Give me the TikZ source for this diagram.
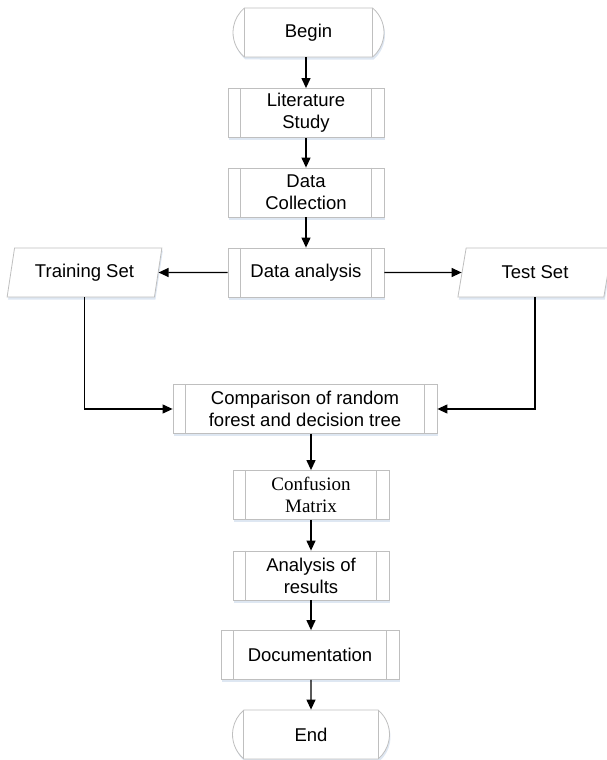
\documentclass[tikz,border=0pt]{standalone}
\usepackage{fontspec}
\setmainfont{Liberation Sans}
\newfontfamily\serifface{Liberation Serif}
\usetikzlibrary{arrows.meta,shapes.geometric,shapes.misc,shadows}
\definecolor{boxgray}{RGB}{191,191,191}
\definecolor{shadowblue}{RGB}{218,228,241}
\tikzset{
  base/.style={draw=boxgray, line width=0.8pt, fill=white, align=center, inner sep=0pt,
    minimum height=49pt, font=\fontsize{18.5}{22}\selectfont,
    drop shadow={shadow xshift=1pt, shadow yshift=-2.5pt, fill=shadowblue, opacity=0.9}},
  proc/.style={base, rectangle},
  term/.style={base, rounded rectangle, rounded rectangle arc length=100},
  io/.style={base, trapezium, trapezium left angle=73, trapezium right angle=107,
    trapezium stretches=true, minimum width=155pt},
  flow/.style={-{Triangle[length=10pt,width=9pt]}, line width=1.2pt, black},
  inner/.style={draw=boxgray, line width=0.8pt}
}
\begin{document}
\begin{tikzpicture}[x=1pt,y=-1pt]
      \useasboundingbox (0,0) rectangle (606,760);
      \draw
        (308.5,32.5) node[term, minimum width=151pt] (begin){Begin}
        (306,113) node[proc, minimum width=156pt] (lit){Literature\\Study}
        (306,192.5) node[proc, minimum width=156pt] (dc){Data\\Collection}
        (306,272.5) node[proc, minimum width=156pt] (da){Data analysis}
        (84.5,272.5) node[io] (train){Training Set}
        (535,272.5) node[io] (test){Test Set}
        (305,409) node[proc, minimum width=264pt] (cmp){Comparison of random\\forest and decision tree}
        (311,495) node[proc, minimum width=156pt, font=\serifface\fontsize{19}{22}\selectfont] (conf){Confusion\\Matrix}
        (311,575.5) node[proc, minimum width=156pt] (anal){Analysis of\\results}
        (310,655) node[proc, minimum width=178pt] (doc){Documentation}
        (311,734.5) node[term, minimum width=157pt] (stop){End};
      \foreach \n in {lit,dc,da,cmp,conf,anal,doc}
        \draw[inner] ([xshift=13pt]\n.north west) -- ([xshift=13pt]\n.south west)
          ([xshift=-13pt]\n.north east) -- ([xshift=-13pt]\n.south east);
      \foreach \n in {begin,stop}
        \draw[inner] (\n.north west) -- (\n.south west)
          (\n.north east) -- (\n.south east);
      \begin{scope}[flow]
        \draw (begin.south -| lit) to (lit);
        \draw (lit) to (dc);
        \draw (dc) to (da);
        \draw (da) to (train);
        \draw (da) to (test);
        \draw (train) |- (cmp);
        \draw (test) |- (cmp);
        \draw (conf |- cmp.south) to (conf);
        \draw (conf) to (anal);
        \draw (anal) to (doc.north -| anal);
        \draw (doc.south -| stop) to (stop);
      \end{scope}
    \end{tikzpicture}
\end{document}
